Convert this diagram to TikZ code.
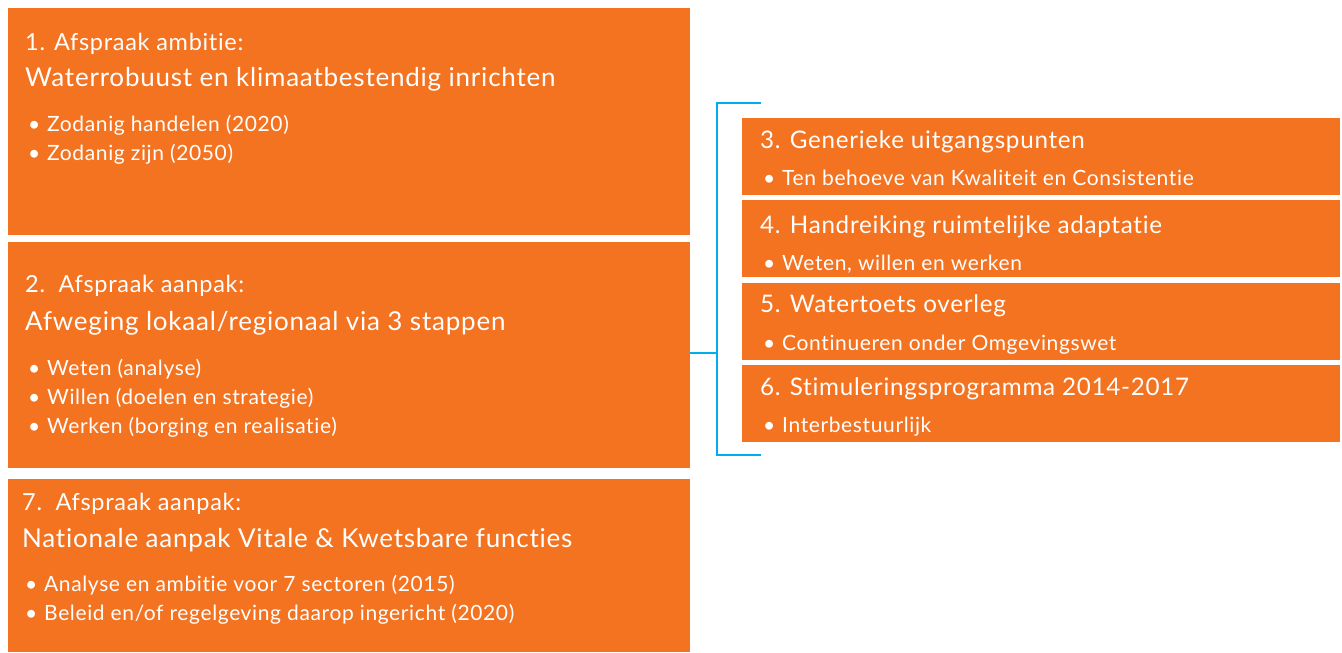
\documentclass[tikz,border=0pt]{standalone}
\usepackage{fontspec}
\setmainfont[LetterSpace=3,Ligatures=NoCommon]{Lato}
\definecolor{oranje}{HTML}{F37321}
\definecolor{cyaan}{HTML}{00AEEF}
\tikzset{
  blok/.style={fill=oranje, draw=none, anchor=north west, inner sep=0pt},
  kop/.style={anchor=base west, inner sep=0pt, text=white, font=\fontsize{23.5}{27}\selectfont},
  titel/.style={anchor=base west, inner sep=0pt, text=white, font=\fontsize{26}{30}\selectfont},
  titelr/.style={anchor=base west, inner sep=0pt, text=white, font=\fontsize{24.2}{28}\selectfont},
  punt/.style={anchor=base west, inner sep=0pt, text=white, font=\fontsize{21}{25}\selectfont},
  haak/.style={draw=cyaan, line width=2pt}
}
\newcommand{\bul}{\makebox[19pt][l]{\textbullet}}
\begin{document}
\begin{tikzpicture}[x=1pt,y=-1pt]
\useasboundingbox (0,0) rectangle (1342,653);
% linker blokken
\node[blok, minimum width=682pt, minimum height=227pt] (b1) at (8,8) {};
\node[blok, minimum width=682pt, minimum height=226pt] (b2) at (8,242) {};
\node[blok, minimum width=682pt, minimum height=173pt] (b7) at (8,479) {};
% rechter blokken
\node[blok, minimum width=598pt, minimum height=77pt] (b3) at (742,118) {};
\node[blok, minimum width=598pt, minimum height=77pt] (b4) at (742,200) {};
\node[blok, minimum width=598pt, minimum height=77pt] (b5) at (742,283) {};
\node[blok, minimum width=598pt, minimum height=77pt] (b6) at (742,365) {};

% teksten blok 1
\node[kop] (t1a) at (25,50) {1. Afspraak ambitie:};
\node[titel] (t1b) at (25,86) {Waterrobuust en klimaatbestendig inrichten};
\node[punt] (t1c) at (28,131) {\bul Zodanig handelen (2020)};
\node[punt] (t1d) at (28,160) {\bul Zodanig zijn (2050)};
% teksten blok 2
\node[kop] (t2a) at (25,292) {2.\ \ Afspraak aanpak:};
\node[titel] (t2b) at (25,330) {Afweging lokaal/regionaal via 3 stappen};
\node[punt] (t2c) at (28,375) {\bul Weten (analyse)};
\node[punt] (t2d) at (28,404) {\bul Willen (doelen en strategie)};
\node[punt] (t2e) at (28,433) {\bul Werken (borging en realisatie)};
% teksten blok 7
\node[kop] (t7a) at (22,510) {7.\ \ Afspraak aanpak:};
\node[titel] (t7b) at (22,547) {Nationale aanpak Vitale \& Kwetsbare functies};
\node[punt] (t7c) at (25,591) {\bul Analyse en ambitie voor 7 sectoren (2015)};
\node[punt] (t7d) at (25,620) {\bul Beleid en/of regelgeving daarop ingericht (2020)};
% teksten rechts
\node[titelr] (t3a) at (760,148) {3. Generieke uitgangspunten};
\node[punt] (t3b) at (763,185) {\bul Ten behoeve van Kwaliteit en Consistentie};
\node[titelr] (t4a) at (760,233) {4. Handreiking ruimtelijke adaptatie};
\node[punt] (t4b) at (763,270) {\bul Weten, willen en werken};
\node[titelr] (t5a) at (760,312) {5. Watertoets overleg};
\node[punt] (t5b) at (763,350) {\bul Continueren onder Omgevingswet};
\node[titelr] (t6a) at (760,395) {6. Stimuleringsprogramma 2014-2017};
\node[punt] (t6b) at (763,432) {\bul Interbestuurlijk};

% haak
\coordinate (hb) at (761,103);
\coordinate (hbl) at (717,103);
\coordinate (hol) at (717,455);
\coordinate (ho) at (761,455);
\coordinate (hm) at (717,353);
\draw[haak] (hb) -- (hbl) -- (hol) -- (ho);
\draw[haak] (b2.east |- hm) -- (hm);
\end{tikzpicture}
\end{document}
